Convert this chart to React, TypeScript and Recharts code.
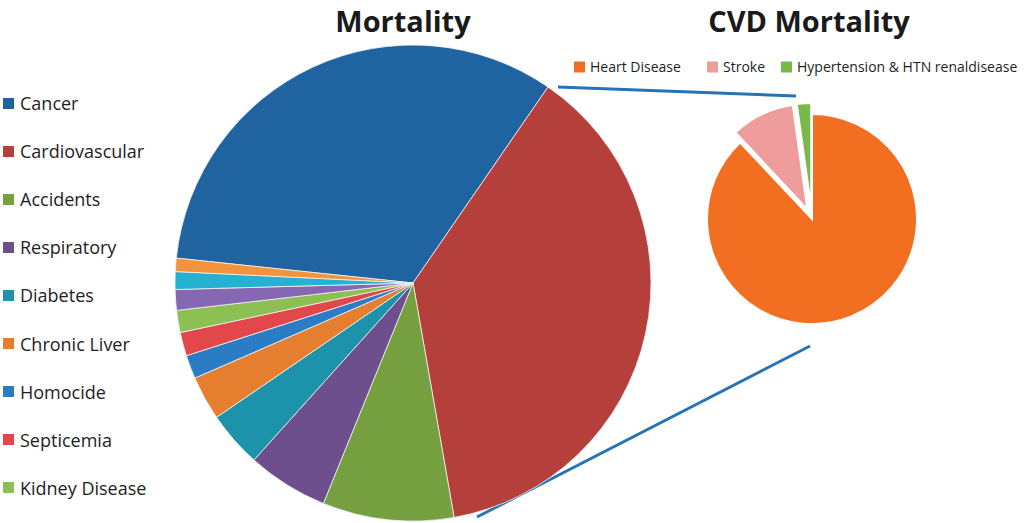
import React from 'react';
import { PieChart, Pie, Cell, Legend } from 'recharts';

// Mortality breakdown (share of deaths, %), clockwise from the Cancer slice
const mortalityNames = [
  'Cancer',
  'Cardiovascular',
  'Accidents',
  'Respiratory',
  'Diabetes',
  'Chronic Liver',
  'Homocide',
  'Septicemia',
  'Kidney Disease',
  'Other 1',
  'Other 2',
  'Other 3',
];
const mortalityValues = [32.9, 37.6, 8.9, 5.5, 3.8, 3.0, 1.6, 1.6, 1.5, 1.4, 1.2, 0.9];
const mortalityColors = [
  '#1f64a0', '#b5403b', '#76a040', '#6e4f8e', '#1c93ab', '#e67e2f',
  '#2a7dc4', '#e2474b', '#8cc052', '#8667b4', '#25b1d1', '#f5923c',
];
// only the first 9 names appear in the legend
const legendCount = 9;

// CVD mortality breakdown (%)
const cvdNames = ['Heart Disease', 'Stroke', 'Hypertension & HTN renaldisease'];
const cvdValues = [88, 9.8, 2.2];
const cvdColors = ['#f26f22', '#ee9c9c', '#7bb84a'];

const FONT = '"Open Sans", "Noto Sans", sans-serif';
const EXPLODE = 11;

const mortalityData = mortalityNames.map((name, i) => ({ name, value: mortalityValues[i] }));
const cvdData = cvdNames.map((name, i) => ({ name, value: cvdValues[i] }));

// offset of an exploded slice along its bisector
const cvdTotal = cvdValues.reduce((a, b) => a + b, 0);
function explodeOffset(index: number) {
  let before = 0;
  for (let i = 0; i < index; i++) before += cvdValues[i];
  const mid = ((before + cvdValues[index] / 2) / cvdTotal) * 2 * Math.PI;
  return { dx: EXPLODE * Math.sin(mid), dy: -EXPLODE * Math.cos(mid) };
}

const MAIN = { cx: 413, cy: 283, r: 238 };
const CVD = { cx: 812, cy: 219, r: 105 };
const cvdLegendX = [574, 707, 781];

function MortalityLegend() {
  return (
    <div style={{ fontFamily: FONT, fontSize: 18, color: '#1e1e1e' }}>
      {mortalityNames.slice(0, legendCount).map((name, i) => (
        <div key={name} style={{ height: 48.1, display: 'flex', alignItems: 'center' }}>
          <span
            style={{
              display: 'inline-block',
              width: 11,
              height: 11,
              background: mortalityColors[i],
              marginLeft: 3,
              marginRight: 6,
              flex: 'none',
            }}
          />
          <span style={{ whiteSpace: 'nowrap' }}>{name}</span>
        </div>
      ))}
    </div>
  );
}

export default function App() {
  const strokeOff = explodeOffset(1);
  const htnOff = explodeOffset(2);

  return (
    <div style={{ position: 'absolute', left: 0, top: 0, width: 1024, height: 523, background: '#fff' }}>
      <PieChart width={1024} height={523} margin={{ top: 0, right: 0, bottom: 0, left: 0 }}>
        {/* main mortality pie */}
        <Pie
          data={mortalityData}
          dataKey="value"
          nameKey="name"
          cx={MAIN.cx}
          cy={MAIN.cy}
          outerRadius={MAIN.r}
          startAngle={174}
          endAngle={-186}
          stroke="#f2f2f2"
          strokeWidth={0.8}
          isAnimationActive={false}
        >
          {mortalityData.map((d, i) => (
            <Cell key={d.name} fill={mortalityColors[i]} />
          ))}
        </Pie>

        {/* CVD pie: heart disease in place */}
        <Pie
          data={cvdData}
          dataKey="value"
          nameKey="name"
          cx={CVD.cx}
          cy={CVD.cy}
          outerRadius={CVD.r}
          startAngle={90}
          endAngle={-270}
          isAnimationActive={false}
        >
          {cvdData.map((d, i) => (
            <Cell
              key={d.name}
              fill={i === 0 ? cvdColors[i] : 'transparent'}
              stroke={i === 0 ? '#fff' : 'none'}
              strokeWidth={2}
            />
          ))}
        </Pie>
        {/* exploded stroke slice */}
        <Pie
          data={cvdData}
          dataKey="value"
          nameKey="name"
          cx={CVD.cx + strokeOff.dx}
          cy={CVD.cy + strokeOff.dy}
          outerRadius={CVD.r}
          startAngle={90}
          endAngle={-270}
          isAnimationActive={false}
        >
          {cvdData.map((d, i) => (
            <Cell
              key={d.name}
              fill={i === 1 ? cvdColors[i] : 'transparent'}
              stroke={i === 1 ? '#fff' : 'none'}
              strokeWidth={2}
            />
          ))}
        </Pie>
        {/* exploded hypertension slice */}
        <Pie
          data={cvdData}
          dataKey="value"
          nameKey="name"
          cx={CVD.cx + htnOff.dx}
          cy={CVD.cy + htnOff.dy}
          outerRadius={CVD.r}
          startAngle={90}
          endAngle={-270}
          isAnimationActive={false}
        >
          {cvdData.map((d, i) => (
            <Cell
              key={d.name}
              fill={i === 2 ? cvdColors[i] : 'transparent'}
              stroke={i === 2 ? '#fff' : 'none'}
              strokeWidth={2}
            />
          ))}
        </Pie>

        <Legend
          layout="vertical"
          align="center"
          verticalAlign="middle"
          content={<MortalityLegend />}
          wrapperStyle={{ position: 'absolute', left: 0, top: 79, width: 170 }}
        />

        {/* titles */}
        <text x={403} y={31.5} textAnchor="middle" fontFamily={FONT} fontWeight={700} fontSize={29} fill="#1a1a1a">
          Mortality
        </text>
        <text x={809} y={31.5} textAnchor="middle" fontFamily={FONT} fontWeight={700} fontSize={29} fill="#1a1a1a">
          CVD Mortality
        </text>

        <text x={536} y={256} textAnchor="middle" fontFamily={FONT} fontSize={24} fill="#2a1616">
          CVD = 60%
        </text>

        {/* CVD legend */}
        {cvdNames.map((name, i) => (
          <g key={name}>
            <rect x={cvdLegendX[i]} y={61.5} width={11} height={11} fill={cvdColors[i]} />
            <text x={cvdLegendX[i] + 16} y={72} fontFamily={FONT} fontSize={14} fill="#1e1e1e">
              {name}
            </text>
          </g>
        ))}

        {/* connector lines */}
        <line x1={558} y1={87} x2={796} y2={96} stroke="#2674b8" strokeWidth={3} />
        <line x1={477} y1={517} x2={810} y2={346} stroke="#2674b8" strokeWidth={3} />
      </PieChart>
    </div>
  );
}
